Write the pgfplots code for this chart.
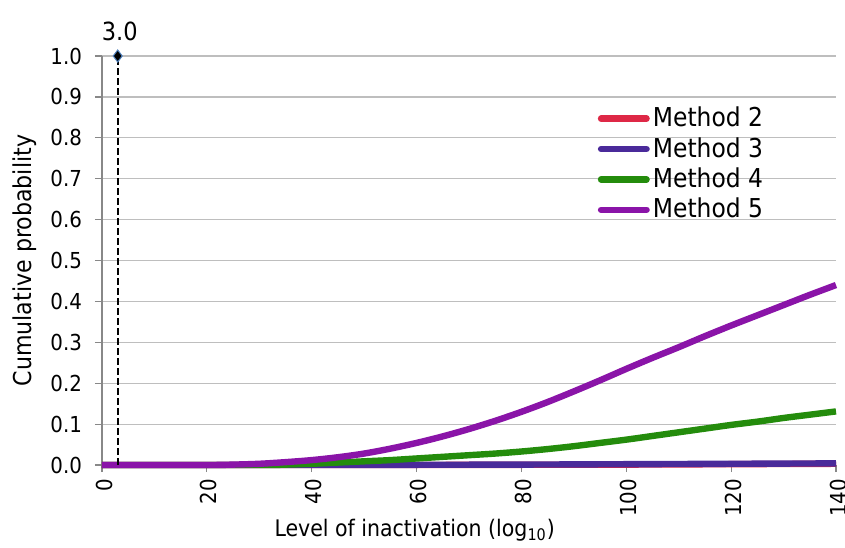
\documentclass[border=0pt]{standalone}
\usepackage{fontspec}
\setmainfont{DejaVu Sans Condensed}
\usepackage{pgfplots}
\pgfplotsset{compat=1.18}
\definecolor{mred}{RGB}{222,40,70}
\definecolor{mblue}{RGB}{74,42,154}
\definecolor{mgreen}{RGB}{36,140,12}
\definecolor{mpurple}{RGB}{138,20,168}
\definecolor{gridc}{RGB}{190,190,190}
\definecolor{axc}{RGB}{136,136,136}
\begin{document}
\begin{tikzpicture}
\path[use as bounding box] (-51pt,-41pt) rectangle (371.5pt,232.5pt);
\begin{axis}[
  scale only axis,
  width=367pt, height=204.5pt,
  xmin=0, xmax=140, ymin=0, ymax=1,
  xtick={0,20,...,140},
  ytick={0,0.1,...,1.0},
  axis x line=bottom, axis y line=left,
  axis line style={-, draw=axc, line width=0.6pt},
  tick style={draw=axc, line width=0.6pt},
  tick align=outside,
  major tick length=3.5pt,
  ymajorgrids,
  grid style={draw=gridc, line width=0.6pt},
  /pgf/number format/assume math mode=true,
  yticklabel style={/pgf/number format/fixed, /pgf/number format/fixed zerofill, /pgf/number format/precision=1, font=\fontsize{11}{13}\selectfont, xshift=-3pt},
  xticklabel style={rotate=90, anchor=east, font=\fontsize{11}{13}\selectfont, yshift=-1pt},
  xlabel={Level of inactivation (log\textsubscript{10})},
  ylabel={Cumulative probability},
  xlabel style={font=\fontsize{11.4}{14}\selectfont, at={(axis description cs:0.426,-0.159)}, anchor=center},
  ylabel style={font=\fontsize{12.3}{14}\selectfont, at={(axis description cs:-0.105,0.5)}, anchor=center},
  legend style={draw=none, fill=none, at={(0.675,0.885)}, anchor=north west,
    font=\fontsize{13}{15}\selectfont, inner sep=0pt,
    nodes={text height=10pt, text depth=2pt, inner sep=1.6pt}},
  legend cell align=left,
  legend image code/.code={\draw[#1, line cap=round] (0cm,0cm) -- (0.8cm,0cm);},
  clip=false,
]
\addplot[mred, line width=3.2pt] coordinates {
(0,0) (20,0) (40,0) (60,0) (80,0.0005) (100,0.001) (120,0.002) (140,0.003)};
\addlegendentry{Method 2}
\addplot[mblue, line width=3.2pt] coordinates {
(0,0) (20,0) (40,0) (60,0.0005) (80,0.001) (100,0.002) (120,0.003) (140,0.004)};
\addlegendentry{Method 3}
\addplot[mgreen, line width=3.2pt, smooth] coordinates {
(0,0) (30,0) (35,0.001) (40,0.003) (45,0.006) (50,0.009) (55,0.012) (60,0.016) (65,0.02) (70,0.024) (75,0.028) (80,0.033) (85,0.039) (90,0.046) (95,0.054) (100,0.062) (105,0.071) (110,0.080) (115,0.089) (120,0.098) (125,0.106) (130,0.115) (135,0.123) (140,0.131)};
\addlegendentry{Method 4}
\addplot[mpurple, line width=3.2pt, smooth] coordinates {
(0,0) (20,0) (25,0.001) (30,0.003) (35,0.007) (40,0.012) (45,0.019) (50,0.028) (55,0.040) (60,0.054) (65,0.070) (70,0.088) (75,0.108) (80,0.130) (85,0.154) (90,0.180) (95,0.207) (100,0.235) (105,0.262) (110,0.288) (115,0.315) (120,0.341) (125,0.366) (130,0.391) (135,0.416) (140,0.440)};
\addlegendentry{Method 5}
\addplot[black, line width=1pt, dash pattern=on 3.5pt off 1.5pt, forget plot] coordinates {(3,0) (3,1)};
\addplot[only marks, mark=diamond*, mark size=3pt, mark options={fill=black, draw={rgb,255:red,79;green,129;blue,189}, line width=0.5pt}, forget plot,
  nodes near coords={3.0}, nodes near coords style={font=\fontsize{12.5}{14}\selectfont, anchor=south, yshift=4pt, xshift=1pt}] coordinates {(3,1)};
\end{axis}
\end{tikzpicture}
\end{document}
